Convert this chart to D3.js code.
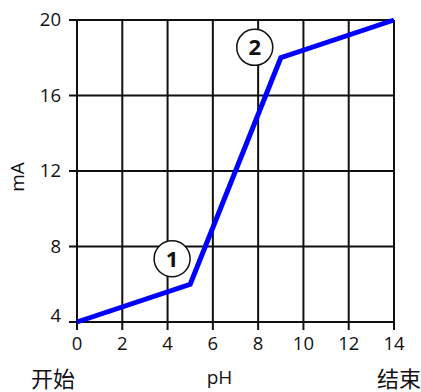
<!DOCTYPE html>
<html lang="zh">
<head>
<meta charset="UTF-8">
<title>pH mA</title>
<script src="https://cdn.jsdelivr.net/npm/d3@7/dist/d3.min.js"></script>
<style>
    body { margin: 0; background: #fff; }
    svg text { font-family: "Open Sans", "Noto Sans", sans-serif; fill: #111; }
    .grid line { stroke: #111; stroke-width: 2; }
    .curve { fill: none; stroke: #0000ff; stroke-width: 5; stroke-linejoin: miter; }
    .mark circle { fill: #fff; stroke: #111; stroke-width: 1.5; }
    .mark text { font-weight: bold; font-size: 22px; }
</style>
</head>
<body>
<svg width="421" height="392"></svg>
<script>
    var xTicks = [0, 2, 4, 6, 8, 10, 12, 14],
        yTicks = [4, 8, 12, 16, 20],
        phValues = [0, 5, 9, 14],
        maValues = [4, 6, 18, 20],
        markLabels = ['1', '2'],
        markPh = [4.2, 7.85],
        markMa = [7.35, 18.55];

    var svg = d3.select('svg'),
        plotLeft = 77, plotRight = 394, plotTop = 20, plotBottom = 322;

    var x = d3.scaleLinear().domain([0, 14]).range([plotLeft, plotRight]),
        y = d3.scaleLinear().domain([4, 20]).range([plotBottom, plotTop]);

    var grid = svg.append('g').classed('grid', true);

    grid.selectAll('.v')
        .data(xTicks)
        .enter().append('line')
        .attr('x1', function(d) { return x(d); })
        .attr('x2', function(d) { return x(d); })
        .attr('y1', plotTop)
        .attr('y2', plotBottom + 8);

    grid.selectAll('.h')
        .data(yTicks)
        .enter().append('line')
        .attr('x1', plotLeft - 8)
        .attr('x2', plotRight)
        .attr('y1', function(d) { return y(d); })
        .attr('y2', function(d) { return y(d); });

    svg.selectAll('.xt')
        .data(xTicks)
        .enter().append('text')
        .attr('x', function(d) { return x(d); })
        .attr('y', 350)
        .attr('text-anchor', 'middle')
        .style('font-size', '18.5px')
        .text(function(d) { return d; });

    // the lowest label sits a bit higher so it clears the x labels
    svg.selectAll('.yt')
        .data(yTicks)
        .enter().append('text')
        .attr('x', 61)
        .attr('y', function(d, i) { return y(d) + (i === 0 ? 0 : 6); })
        .attr('text-anchor', 'end')
        .style('font-size', '18.5px')
        .text(function(d) { return d; });

    svg.append('text')
        .attr('transform', 'translate(24,177) rotate(-90)')
        .attr('text-anchor', 'middle')
        .style('font-size', '19px')
        .text('mA');

    svg.append('text')
        .attr('x', 219.5)
        .attr('y', 384)
        .attr('text-anchor', 'middle')
        .style('font-size', '19px')
        .text('pH');

    svg.append('text')
        .attr('x', 31)
        .attr('y', 387)
        .style('font-size', '22px')
        .style('font-family', '"Noto Sans CJK SC", sans-serif')
        .text('开始');

    svg.append('text')
        .attr('x', 421)
        .attr('y', 387)
        .attr('text-anchor', 'end')
        .style('font-size', '22px')
        .style('font-family', '"Noto Sans CJK SC", sans-serif')
        .text('结束');

    var line = d3.line()
        .x(function(d) { return x(d[0]); })
        .y(function(d) { return y(d[1]); });

    svg.append('path')
        .classed('curve', true)
        .attr('d', line(d3.zip(phValues, maValues)));

    var marks = svg.selectAll('.mark')
        .data(markLabels)
        .enter().append('g')
        .classed('mark', true)
        .attr('transform', function(d, i) {
            return 'translate(' + x(markPh[i]) + ',' + y(markMa[i]) + ')';
        });

    marks.append('circle').attr('r', 18);

    marks.append('text')
        .attr('text-anchor', 'middle')
        .attr('y', 8)
        .text(function(d) { return d; });
</script>
</body>
</html>
